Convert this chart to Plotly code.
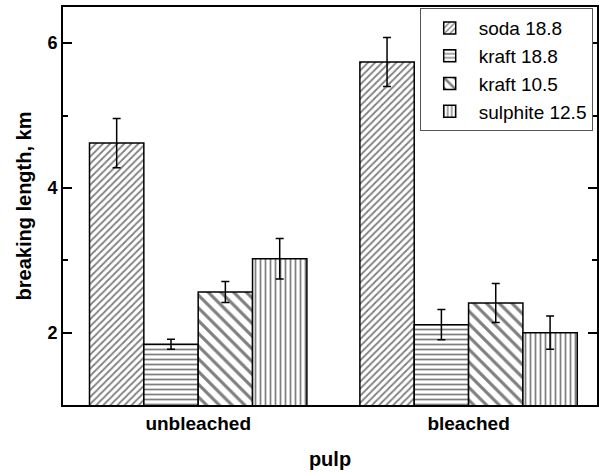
import plotly.graph_objects as go

# ---------------------------------------------------------------------------
# Data
# ---------------------------------------------------------------------------
pulp = ["unbleached", "bleached"]

soda_188 = [4.62, 5.74]
soda_188_err = [0.34, 0.34]

kraft_188 = [1.84, 2.11]
kraft_188_err = [0.07, 0.21]

kraft_105 = [2.56, 2.41]
kraft_105_err = [0.145, 0.27]

sulphite_125 = [3.02, 2.00]
sulphite_125_err = [0.28, 0.23]

series = [
    ("soda 18.8", soda_188, soda_188_err, "/", 5),
    ("kraft 18.8", kraft_188, kraft_188_err, "-", 5),
    ("kraft 10.5", kraft_105, kraft_105_err, "\\", 9),
    ("sulphite 12.5", sulphite_125, sulphite_125_err, "|", 5),
]

FONT = "Liberation Sans, Arial, sans-serif"

fig = go.Figure()
for name, values, errors, shape, size in series:
    fig.add_trace(go.Bar(
        x=pulp,
        y=values,
        name=name,
        marker={
            "color": "white",
            "line": {"color": "black", "width": 1.5},
            "pattern": {
                "shape": shape,
                "size": size,
                "solidity": 0.35,
                "fgcolor": "black",
                "bgcolor": "white",
            },
        },
        error_y={
            "type": "data",
            "array": errors,
            "color": "black",
            "thickness": 1.5,
            "width": 4,
        },
    ))

fig.update_layout(
    width=599,
    height=472,
    margin={"l": 63, "r": 0, "t": 7, "b": 67},
    paper_bgcolor="white",
    plot_bgcolor="white",
    font={"family": FONT, "color": "black"},
    barmode="group",
    bargap=0.196,
    bargroupgap=0,
    showlegend=True,
    legend={
        "x": 0.668,
        "y": 0.997,
        "xanchor": "left",
        "yanchor": "top",
        "bgcolor": "white",
        "bordercolor": "#555555",
        "borderwidth": 1,
        "font": {"size": 19, "family": FONT},
        "itemwidth": 48,
        "tracegroupgap": 0,
    },
)

fig.update_xaxes(
    range=[-0.5, 1.475],
    showline=True,
    linecolor="black",
    linewidth=2,
    mirror=True,
    ticks="",
    showgrid=False,
    tickfont={"size": 19, "family": FONT, "weight": "bold"},
    title={"text": "<b>pulp</b>", "font": {"size": 20}, "standoff": 19},
)

fig.update_yaxes(
    range=[1, 6.5],
    tick0=0,
    dtick=2,
    ticks="inside",
    ticklen=9,
    tickwidth=2,
    tickcolor="black",
    minor={"dtick": 1, "ticks": "inside", "ticklen": 5, "tickwidth": 2,
           "tickcolor": "black"},
    showline=True,
    linecolor="black",
    linewidth=2,
    mirror="ticks",
    showgrid=False,
    zeroline=False,
    tickfont={"size": 18, "family": FONT, "weight": "bold"},
    title={"text": "<b>breaking length, km</b>", "font": {"size": 20}, "standoff": 10},
)

# the page body has a default 8px margin; drop it so the figure sits at 0,0
fig.write_html(
    "out.html",
    config={"displayModeBar": False},
    post_script="document.body.style.margin = '0px';",
)
